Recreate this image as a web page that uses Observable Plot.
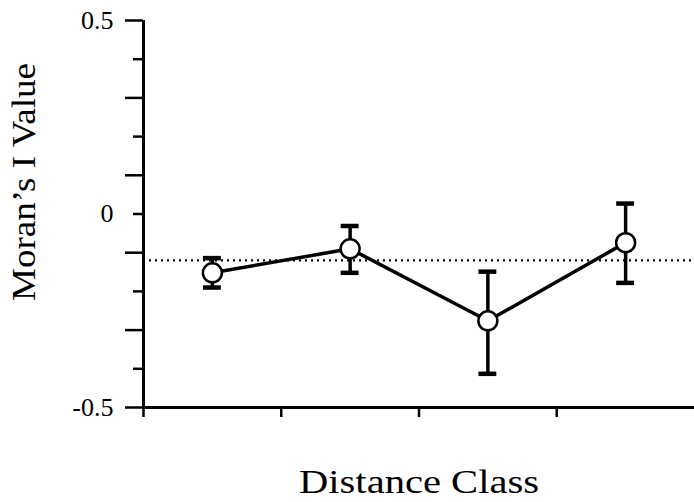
<!DOCTYPE html>
<html>
<head>
<meta charset="utf-8">
<script src="https://cdn.jsdelivr.net/npm/d3@7"></script>
<script src="https://cdn.jsdelivr.net/npm/@observablehq/plot@0.6"></script>
<style>
  html, body { margin: 0; padding: 0; background: #fff; }
</style>
</head>
<body>
<div id="chart"></div>
<script>
// Data
const distanceClass = [1, 2, 3, 4];
const moranI = [-0.152, -0.090, -0.276, -0.074];
const upperBar = [-0.114, -0.031, -0.149, 0.027];
const lowerBar = [-0.190, -0.152, -0.413, -0.178];
const expectedI = -0.12;

const yLabelTicks = [-0.5, 0, 0.5];
const yLongTicks = [-0.5, -0.3, -0.1, 0.1, 0.3, 0.5];
const yShortTicks = [-0.4, -0.2, 0, 0.2, 0.4];
const xTicks = [0, 1, 2, 3];

const xLabel = "Distance Class";
const yLabel = "Moran\u2019s I Value";

const data = distanceClass.map((c, i) => ({
  x: c - 0.5, i: moranI[i], hi: upperBar[i], lo: lowerBar[i]
}));
const capHalf = 0.065;

const chart = Plot.plot({
  width: 694,
  height: 502,
  marginLeft: 143,
  marginRight: 0,
  marginTop: 20,
  marginBottom: 95,
  style: { fontFamily: "'Liberation Serif', 'Times New Roman', serif", background: "#fff", color: "#000" },
  x: { domain: [0, 4] },
  y: { domain: [-0.5, 0.5] },
  marks: [
    Plot.axisY({ ticks: yLongTicks, tickSize: 18, tickFormat: () => "", strokeWidth: 2.5, label: null }),
    Plot.axisY({ ticks: yShortTicks, tickSize: 10, tickFormat: () => "", strokeWidth: 2.5, label: null }),
    Plot.axisY({ ticks: yLabelTicks, tickSize: 0, tickPadding: 30, fontSize: 26,
      tickFormat: d => d === 0 ? "0" : d.toFixed(1), label: null }),
    Plot.axisX({ ticks: xTicks, tickSize: 10, tickFormat: () => "", strokeWidth: 2.5, label: null }),
    Plot.ruleX([0], { y1: -0.5, y2: 0.5, stroke: "#000", strokeWidth: 3 }),
    Plot.ruleY([-0.5], { x1: 0, x2: 4, stroke: "#000", strokeWidth: 3 }),
    Plot.ruleY([expectedI], { x1: 0, x2: 4, stroke: "#000", strokeWidth: 2.2, strokeDasharray: "2,4" }),
    Plot.ruleX(data, { x: "x", y1: "lo", y2: "hi", stroke: "#000", strokeWidth: 3.5 }),
    Plot.ruleY(data, { y: "hi", x1: d => d.x - capHalf, x2: d => d.x + capHalf, stroke: "#000", strokeWidth: 4.5 }),
    Plot.ruleY(data, { y: "lo", x1: d => d.x - capHalf, x2: d => d.x + capHalf, stroke: "#000", strokeWidth: 4.5 }),
    Plot.line(data, { x: "x", y: "i", stroke: "#000", strokeWidth: 3.5 }),
    Plot.dot(data, { x: "x", y: "i", r: 9.5, fill: "#fff", stroke: "#000", strokeWidth: 2.5 }),
    Plot.text([xLabel], { frameAnchor: "bottom", dy: 85, fontSize: 33, fill: "#000", className: "xlab" }),
    Plot.text([yLabel], { frameAnchor: "left", textAnchor: "middle", rotate: -90, dx: -119, dy: -32, fontSize: 33, fill: "#000", className: "ylab" })
  ]
});
document.getElementById("chart").appendChild(chart);
d3.select(chart).selectAll(".xlab text").attr("textLength", 240).attr("lengthAdjust", "spacingAndGlyphs");
d3.select(chart).selectAll(".ylab text").attr("textLength", 238).attr("lengthAdjust", "spacingAndGlyphs");
</script>
</body>
</html>
